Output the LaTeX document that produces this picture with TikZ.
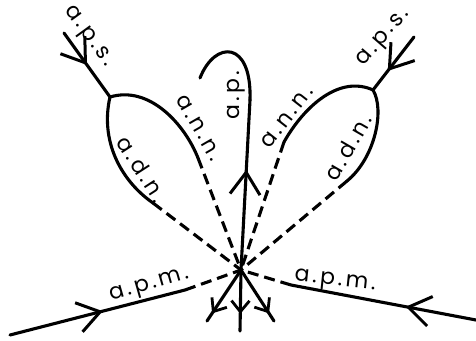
\documentclass[tikz,border=0pt]{standalone}
\usepackage{fontspec}
\newfontfamily\labfont[LetterSpace=14]{Poppins}
\usetikzlibrary{arrows.meta,decorations.markings}
\tikzset{
  lab/.style={font=\labfont\fontsize{22}{26}\selectfont, inner sep=0pt},
  dashline/.style={dash pattern=on 11pt off 6pt, line cap=butt},
  midarr/.style={postaction={decorate}, decoration={markings,
      mark=at position #1 with {\arrow{Straight Barb[length=22pt,width=30pt,line width=3pt]}}}},
  smallarr/.style={postaction={decorate}, decoration={markings,
      mark=at position #1 with {\arrow{Straight Barb[length=11pt,width=18pt,line width=2.8pt]}}}},
}
\begin{document}
\begin{tikzpicture}[x=1pt,y=-1pt,line width=3.1pt,line cap=round,line join=round]
\useasboundingbox (0,0) rectangle (476,340);
% coordinates
\coordinate (C) at (241,270);
\coordinate (J1) at (110,97);
\coordinate (S1) at (64,33);
\coordinate (N1) at (198,158);
\coordinate (D1) at (153,203);
\coordinate (J2) at (373,90);
\coordinate (S2) at (414,37);
\coordinate (N2) at (284,142);
\coordinate (D2) at (347,181);
\coordinate (P1) at (250,100);
\coordinate (P2) at (200,78);
\coordinate (M1) at (10,335);
\coordinate (M1b) at (185,290);
\coordinate (M2) at (476,320);
\coordinate (M2b) at (291,285);
\coordinate (B1) at (207,321);
\coordinate (B2) at (240,331);
\coordinate (B3) at (274,321);
% left loop
\draw[midarr=0.5] (S1) -- (J1);
\draw (J1) .. controls (150,85) and (185,125) .. (N1);
\draw (J1) .. controls (100,140) and (120,180) .. (D1);
\draw[dashline] (N1) -- (C);
\draw[dashline] (D1) -- (C);
% right loop
\draw[midarr=0.64] (S2) -- (J2);
\draw (J2) .. controls (340,75) and (305,105) .. (N2);
\draw (J2) .. controls (385,110) and (375,158) .. (D2);
\draw[dashline] (N2) -- (C);
\draw[dashline] (D2) -- (C);
% central
\draw[midarr=0.59] (C) -- (P1);
\draw (P1) .. controls (252,40) and (215,40) .. (P2);
% bottom lines
\draw[midarr=0.53] (M1) -- (M1b);
\draw[dashline] (M1b) -- (C);
\draw[midarr=0.38] (M2) -- (M2b);
\draw[dashline] (M2b) -- (C);
\draw[smallarr=0.85] (C) -- (B1);
\draw[smallarr=0.72] (C) -- (B2);
\draw[smallarr=0.85] (C) -- (B3);
% labels
\node[lab,rotate=-54] (l1) at (88,37) {a.p.s.};
\node[lab,rotate=-60] (l2) at (199,128) {a.n.n.};
\node[lab,rotate=-57] (l3) at (142,169) {a.d.n.};
\node[lab,rotate=90] (l4) at (236,95) {a.p.};
\node[lab,rotate=52] (l5) at (287,117) {a.n.n.};
\node[lab,rotate=60] (l6) at (348,147) {a.d.n.};
\node[lab,rotate=49] (l7) at (384,38) {a.p.s.};
\node[lab,rotate=16] (l8) at (150,286) {a.p.m.};
\node[lab,rotate=-6] (l9) at (335,282) {a.p.m.};
\end{tikzpicture}
\end{document}
